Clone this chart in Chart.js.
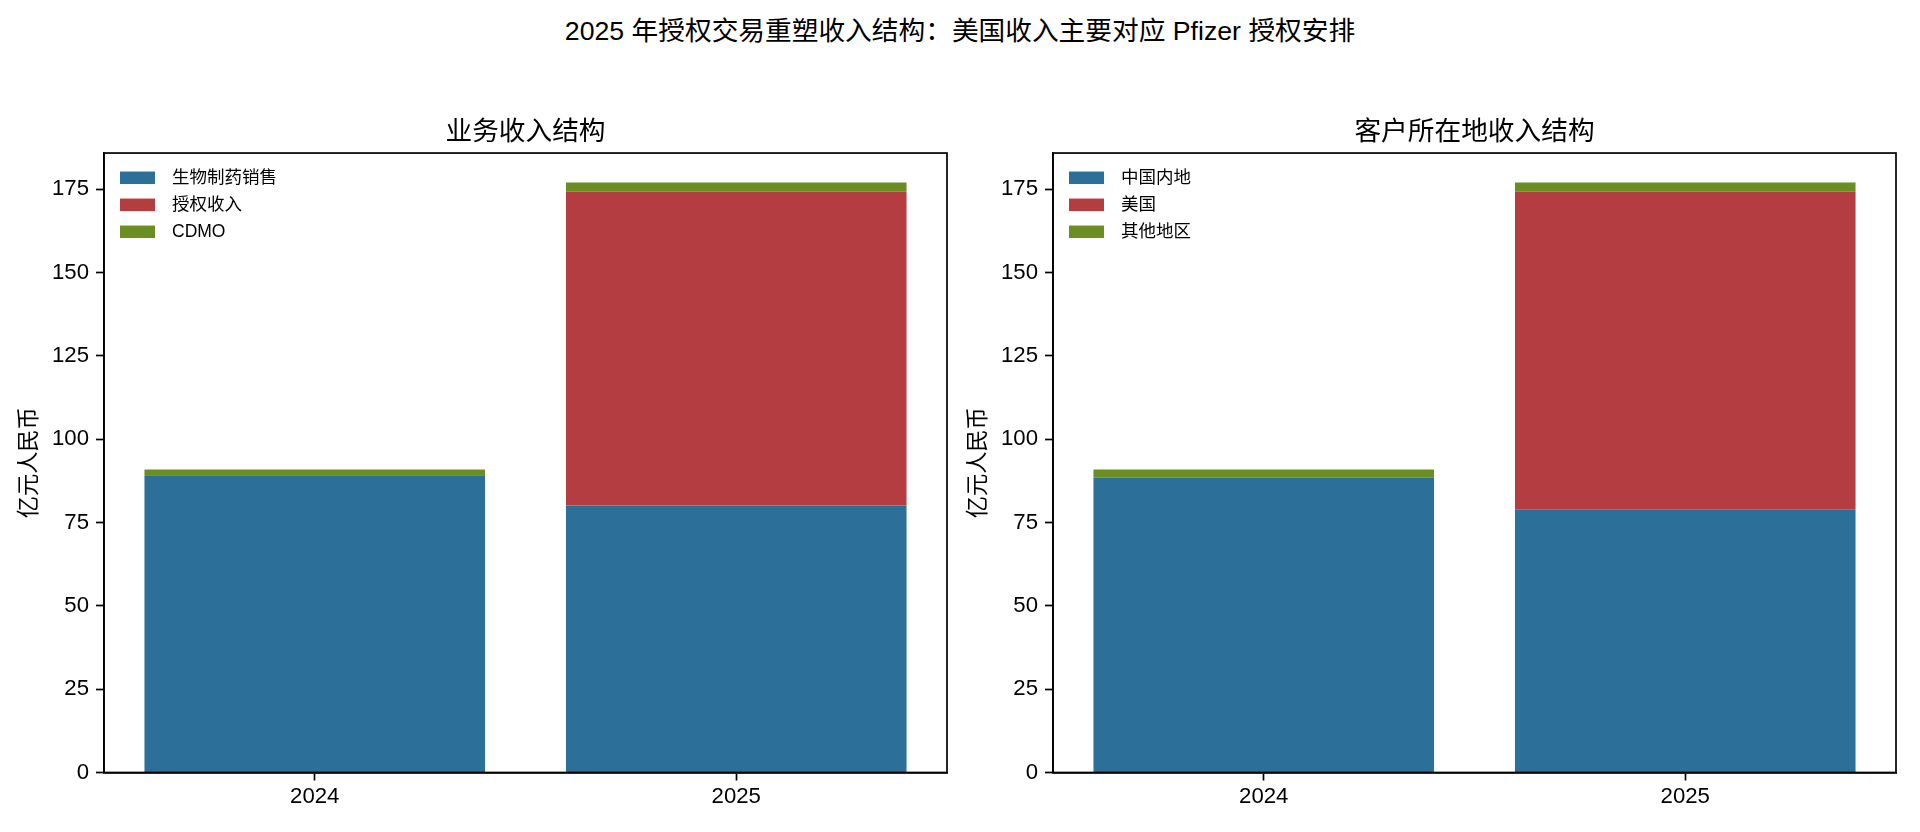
<!DOCTYPE html>
<html lang="zh-CN">
<head>
<meta charset="utf-8">
<title>2025 年授权交易重塑收入结构</title>
<script src="https://cdn.jsdelivr.net/npm/chart.js@4.4.1/dist/chart.umd.min.js"></script>
<style>
  html, body { margin: 0; padding: 0; background: #fff; }
  body { width: 1920px; height: 832px; position: relative; overflow: hidden; }
  #suptitle {
    position: absolute; left: 0; top: 12px; width: 1920px; height: 34px;
    line-height: 34px; text-align: center; font-size: 26.7px; color: #000;
    font-family: "Liberation Sans", "Noto Sans CJK SC", sans-serif;
    white-space: nowrap;
  }
  #suptitle .punct { font-family: "Noto Sans CJK TC", sans-serif; }
  canvas { position: absolute; top: 0; }
  #bizChart { left: 0; }
  #regionChart { left: 949px; }
</style>
</head>
<body>
<div id="suptitle">2025 年授权交易重塑收入结构<span class="punct">：</span>美国收入主要对应 Pfizer 授权安排</div>
<canvas id="bizChart" width="960" height="832"></canvas>
<canvas id="regionChart" width="971" height="832"></canvas>
<script>
'use strict';

// Data (亿元人民币)
const years = ['2024', '2025'];

const bizLabels = ['生物制药销售', '授权收入', 'CDMO'];
const bioSales = [89.2, 80.1];
const licenseIncome = [0, 94.2];
const cdmoIncome = [1.7, 2.7];

const regionLabels = ['中国内地', '美国', '其他地区'];
const chinaMainland = [88.5, 79.0];
const usIncome = [0, 95.3];
const otherRegions = [2.4, 2.7];

const yTicks = [0, 25, 50, 75, 100, 125, 150, 175];
const yMax = 185.85;

(function () {
    // Color Variables
    const blueColor = '#2c7099',
        redColor = '#b33d40',
        greenColor = '#6b8e23',
        axisColor = '#000000';

    const fontFamily = '"Liberation Sans", "Noto Sans CJK SC", sans-serif';

    // axes frame (top + right spines like matplotlib)
    const framePlugin = {
        id: 'frame',
        afterDraw(chart) {
            const { ctx, chartArea: a } = chart;
            ctx.save();
            ctx.strokeStyle = axisColor;
            ctx.lineWidth = 1.7;
            ctx.strokeRect(a.left, a.top, a.right - a.left, a.bottom - a.top);
            ctx.restore();
        }
    };

    // legend in upper left, inside the axes, no frame
    const innerLegend = {
        id: 'innerLegend',
        afterDraw(chart) {
            const { ctx, chartArea: a } = chart;
            ctx.save();
            ctx.font = '17.5px ' + fontFamily;
            ctx.textBaseline = 'middle';
            ctx.textAlign = 'left';
            chart.data.datasets.forEach(function (ds, i) {
                const cy = a.top + 24.5 + i * 27;
                const bx = a.left + 16;
                ctx.fillStyle = ds.backgroundColor;
                ctx.fillRect(bx, cy - 6, 35, 12.5);
                ctx.fillStyle = '#000';
                ctx.fillText(ds.label, bx + 52, cy + 1);
            });
            ctx.restore();
        }
    };

    function makeChart(el, title, labels, series, padRight) {
        const colors = [blueColor, redColor, greenColor];
        return new Chart(el, {
            type: 'bar',
            data: {
                labels: years,
                datasets: series.map(function (values, i) {
                    return {
                        label: labels[i],
                        data: values,
                        backgroundColor: colors[i],
                        borderWidth: 0,
                        categoryPercentage: 0.808,
                        barPercentage: 1.0
                    };
                })
            },
            options: {
                responsive: false,
                animation: false,
                layout: {
                    padding: { left: 0, right: padRight, top: 0, bottom: 0 }
                },
                plugins: {
                    legend: { display: false },
                    tooltip: { enabled: false },
                    title: {
                        display: true,
                        text: title,
                        fullSize: false,
                        color: '#000',
                        font: { family: fontFamily, size: 26.7, weight: 'normal', lineHeight: 1.2 },
                        padding: { top: 117, bottom: 4 }
                    }
                },
                scales: {
                    x: {
                        stacked: true,
                        offset: true,
                        afterFit: function (scale) {
                            scale.height = 59.5;
                        },
                        grid: {
                            offset: false,
                            drawOnChartArea: false,
                            drawTicks: true,
                            tickLength: 8,
                            tickWidth: 1.7,
                            tickColor: axisColor
                        },
                        border: { display: true, color: axisColor, width: 1.7 },
                        ticks: {
                            color: '#000',
                            padding: 3,
                            font: { family: fontFamily, size: 22.2 }
                        }
                    },
                    y: {
                        stacked: true,
                        min: 0,
                        max: yMax,
                        afterFit: function (scale) {
                            scale.width = 104;
                        },
                        afterBuildTicks: function (scale) {
                            scale.ticks = yTicks.map(function (v) { return { value: v }; });
                        },
                        grid: {
                            drawOnChartArea: false,
                            drawTicks: true,
                            tickLength: 8,
                            tickWidth: 1.7,
                            tickColor: axisColor
                        },
                        border: { display: true, color: axisColor, width: 1.7 },
                        ticks: {
                            color: '#000',
                            padding: 7,
                            font: { family: fontFamily, size: 22.2 }
                        },
                        title: {
                            display: true,
                            text: '亿元人民币',
                            color: '#000',
                            font: { family: fontFamily, size: 22.2, lineHeight: 1.2 },
                            padding: { top: 17, bottom: 0 }
                        }
                    }
                }
            },
            plugins: [framePlugin, innerLegend]
        });
    }

    makeChart(document.getElementById('bizChart'), '业务收入结构', bizLabels,
        [bioSales, licenseIncome, cdmoIncome], 13);

    makeChart(document.getElementById('regionChart'), '客户所在地收入结构', regionLabels,
        [chinaMainland, usIncome, otherRegions], 24);
})();
</script>
</body>
</html>
